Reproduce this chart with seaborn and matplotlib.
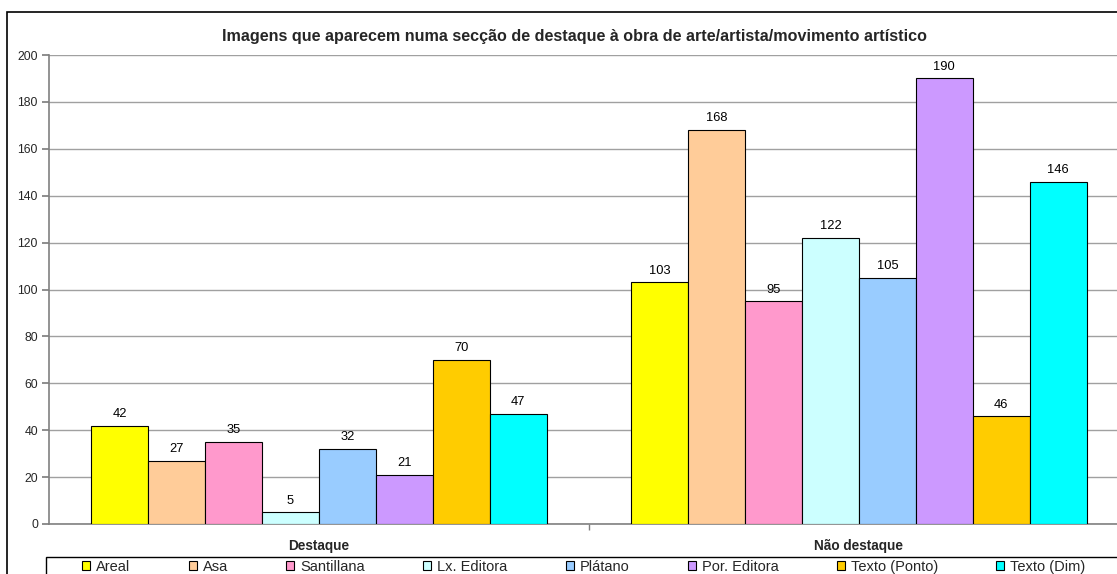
import matplotlib
matplotlib.use("Agg")
import matplotlib.pyplot as plt
import seaborn as sns
import pandas as pd
from matplotlib.patches import Rectangle, Patch

categories = ["Destaque", "Não destaque"]
publishers = ["Areal", "Asa", "Santillana", "Lx. Editora", "Plátano",
              "Por. Editora", "Texto (Ponto)", "Texto (Dim)"]
destaque = [42, 27, 35, 5, 32, 21, 70, 47]
nao_destaque = [103, 168, 95, 122, 105, 190, 46, 146]
colors = ["#FFFF00", "#FFCC99", "#FF99CC", "#CCFFFF", "#99CCFF",
          "#CC99FF", "#FFCC00", "#00FFFF"]
title = "Imagens que aparecem numa secção de destaque à obra de arte/artista/movimento artístico"

rows = []
for cat, vals in zip(categories, [destaque, nao_destaque]):
    for p, v in zip(publishers, vals):
        rows.append({"cat": cat, "pub": p, "val": v})
df = pd.DataFrame(rows)

sns.set_theme(style="white")
plt.rcParams["font.family"] = ["Liberation Sans", "DejaVu Sans"]

W, H = 1117, 574
fig = plt.figure(figsize=(W / 100, H / 100), dpi=100)

# outer chart border
fig.patches.append(Rectangle((7 / W, -0.1), 1.2, 1 - 12 / H + 0.1,
                             transform=fig.transFigure, fill=False,
                             edgecolor="black", linewidth=1.2, zorder=0))

ax_left, ax_right = 49 / W, 1129 / W
ax_bottom, ax_top = 1 - 524 / H, 1 - 55 / H
ax = fig.add_axes([ax_left, ax_bottom, ax_right - ax_left, ax_top - ax_bottom])
ax.set_facecolor("none")

sns.barplot(data=df, x="cat", y="val", hue="pub", order=categories,
            hue_order=publishers, palette=colors, saturation=1,
            width=0.843, gap=0, edgecolor="black", linewidth=0.8,
            ax=ax, legend=False, zorder=3)

for c in ax.containers:
    ax.bar_label(c, padding=4, fontsize=9.3, color="black")

ax.set_xlim(-0.5, 1.5)
ax.set_ylim(0, 200)
ax.set_yticks(range(0, 201, 20))
ax.yaxis.grid(True, color="#A0A0A0", linewidth=1)
ax.set_axisbelow(True)
for s in ["top", "right"]:
    ax.spines[s].set_visible(False)
ax.spines["left"].set_color("#808080")
ax.spines["bottom"].set_color("#808080")
ax.spines["left"].set_linewidth(1.2)
ax.spines["bottom"].set_linewidth(1.2)
ax.tick_params(axis="y", which="major", left=True, length=5, color="#808080",
               labelsize=8.8, pad=3)
ax.set_xticks([0, 1])
ax.set_xticklabels(categories, fontsize=9.8, fontweight="bold")
ax.tick_params(axis="x", which="major", length=0, pad=11)
ax.set_xticks([0.5], minor=True)
ax.tick_params(axis="x", which="minor", bottom=True, length=4, color="#808080")
ax.set_xlabel("")
ax.set_ylabel("")

fig.text(574 / W, 1 - 37 / H, title, ha="center", va="center",
         fontsize=11.6, fontweight="bold")

# legend
fig.patches.append(Rectangle((46 / W, -0.1), 1.2, 0.1 + 1 - 557 / H,
                             transform=fig.transFigure, fill=False,
                             edgecolor="black", linewidth=1, zorder=1))
handles = [Patch(facecolor=c, edgecolor="black", linewidth=0.8) for c in colors]
fig.legend(handles, publishers, loc="center left",
           bbox_to_anchor=(82 / W, 1 - 567 / H), ncol=8, frameon=False,
           fontsize=10.5, handlelength=0.55, handleheight=0.55,
           handletextpad=0.41, columnspacing=4.0, borderpad=0,
           borderaxespad=0)

fig.savefig("out.png", dpi=100)
